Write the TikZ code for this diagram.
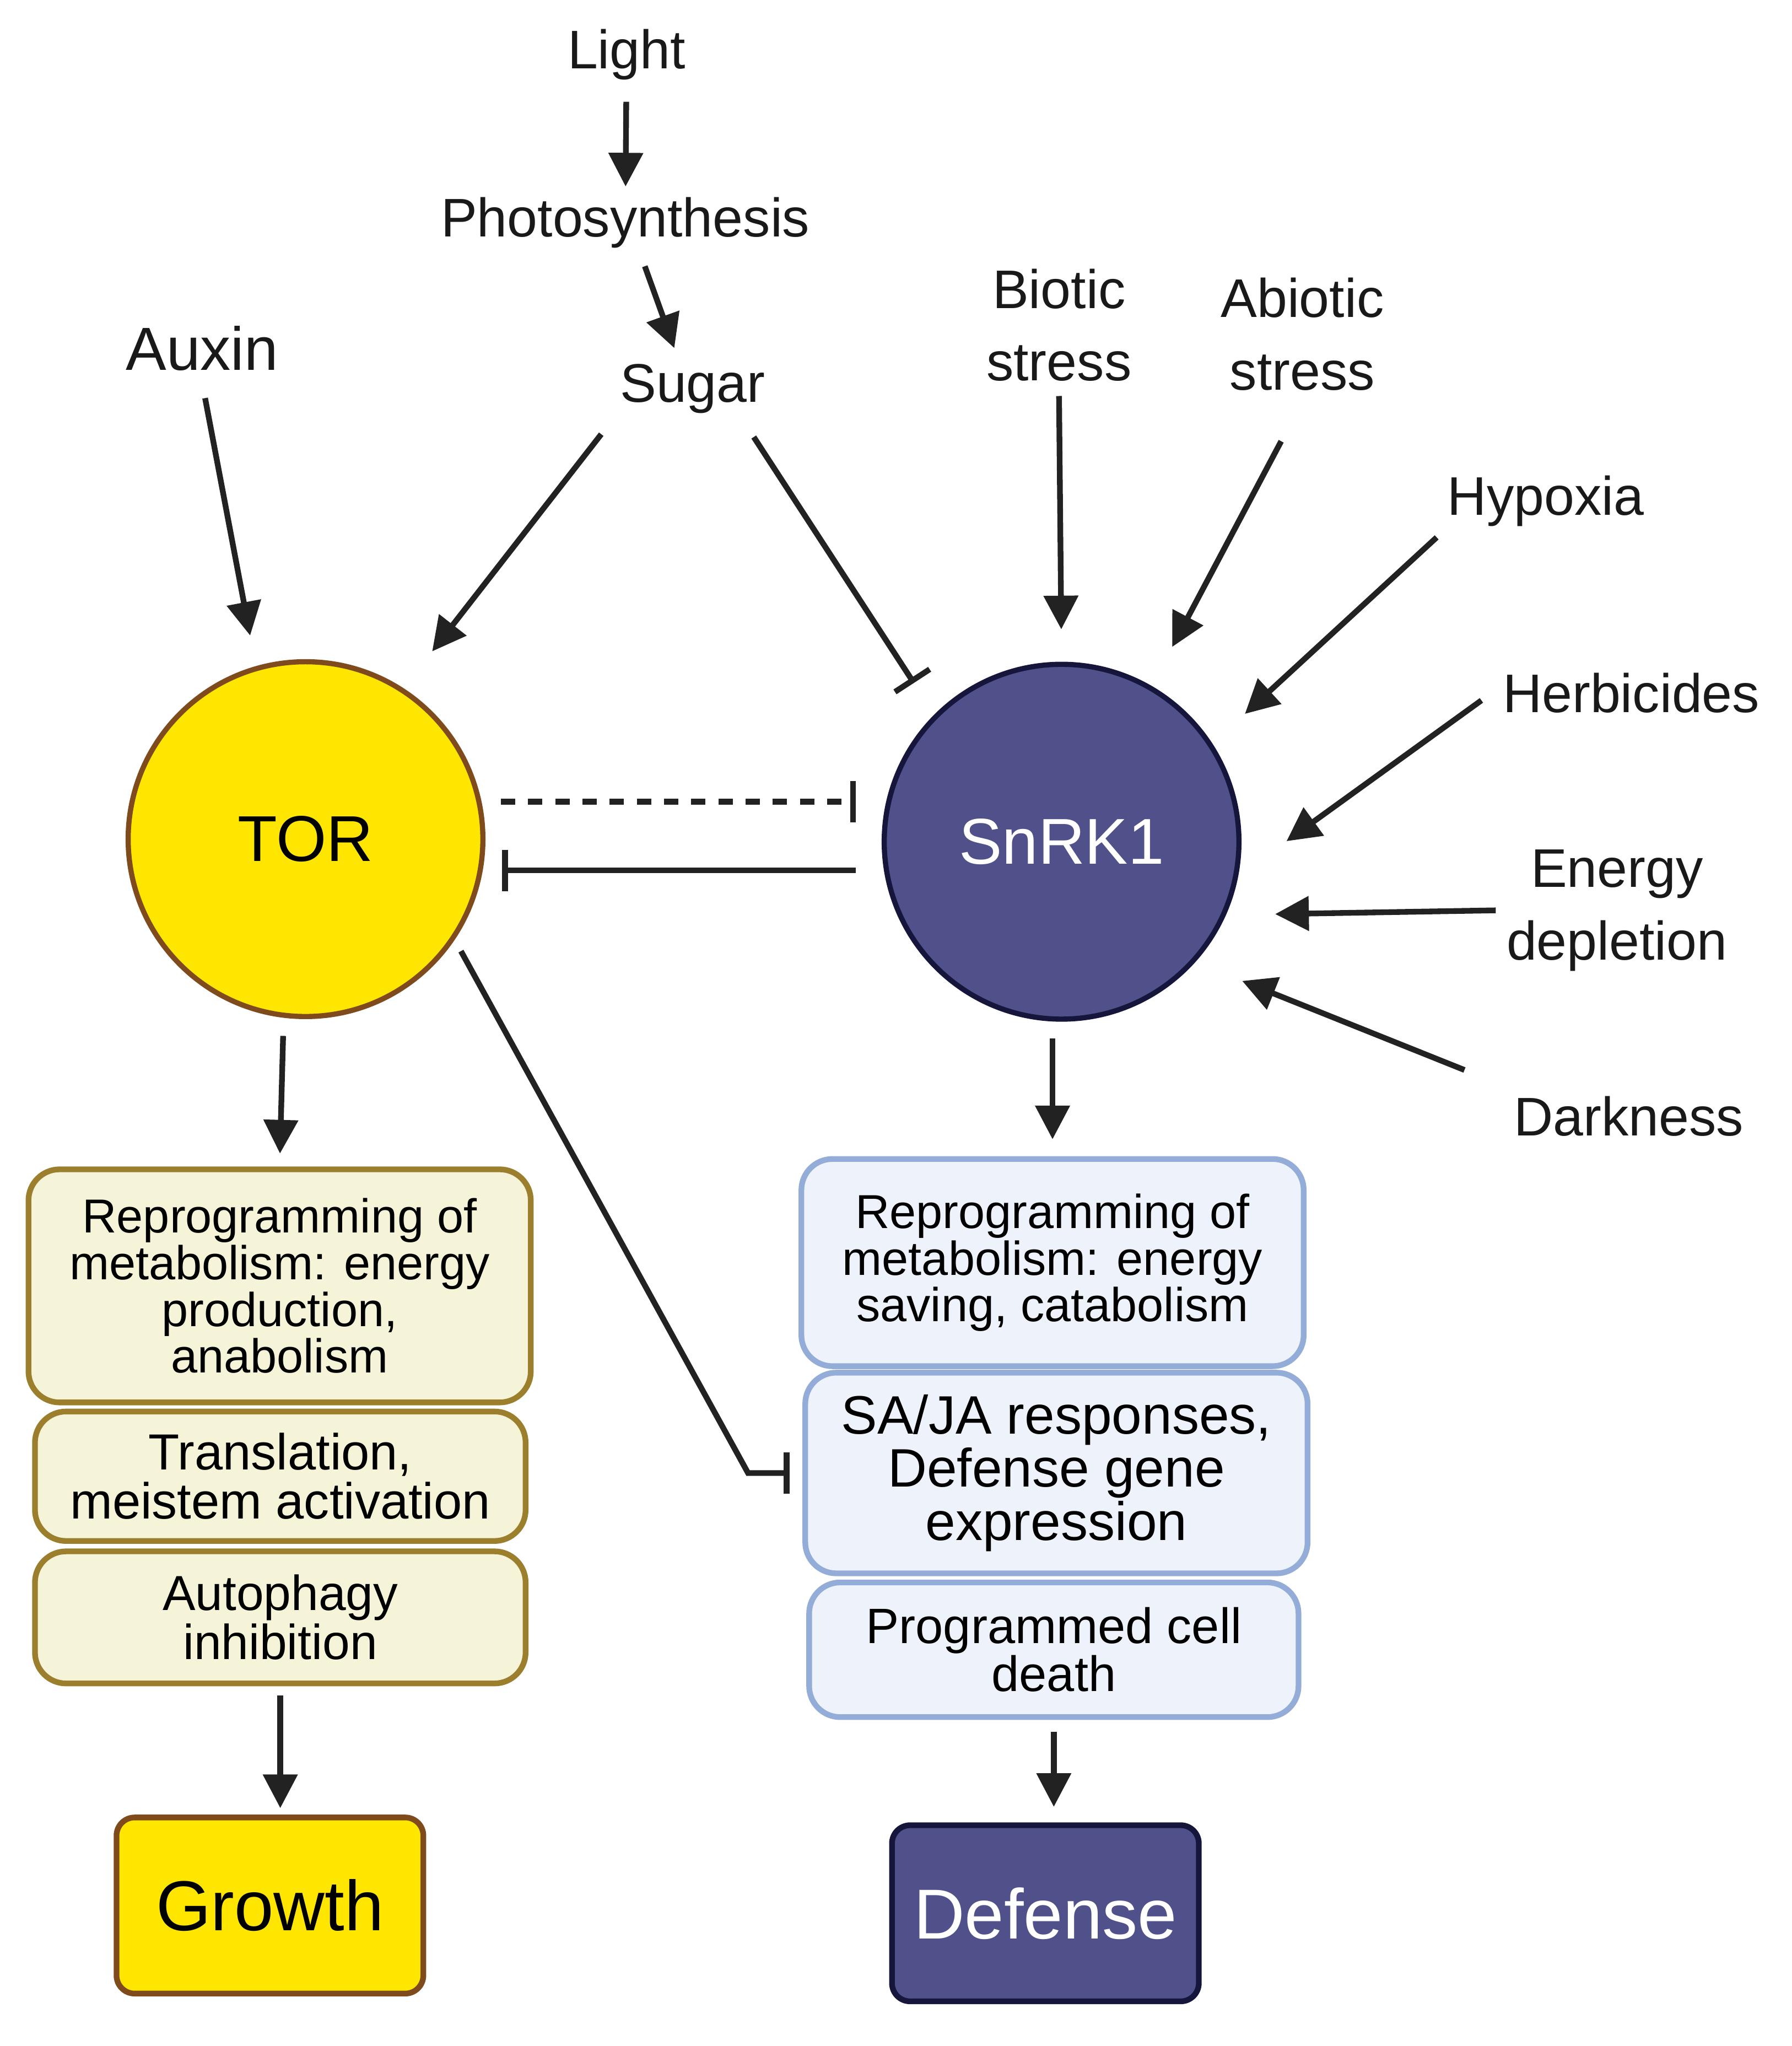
\documentclass[tikz,border=0pt]{standalone}
\usepackage{fontspec}
\setmainfont{Liberation Sans}
\usetikzlibrary{arrows.meta}

\definecolor{linecol}{HTML}{222222}
\definecolor{torfill}{HTML}{FFE600}
\definecolor{tordraw}{HTML}{7F4A1C}
\definecolor{snrkfill}{HTML}{50508A}
\definecolor{snrkdraw}{HTML}{16163C}
\definecolor{lboxfill}{HTML}{F5F3D8}
\definecolor{lboxdraw}{HTML}{9B7F2D}
\definecolor{rboxfill}{HTML}{EEF3FB}
\definecolor{rboxdraw}{HTML}{93ADD8}

\tikzset{
  lab/.style={inner sep=4pt,align=center,text=black!90,font=\fontsize{21}{28}\selectfont},
  act/.style={line width=2.2pt,draw=linecol,-{Triangle[length=13pt,width=13pt]}},
  inh/.style={line width=2.2pt,draw=linecol,-{Bar[width=16pt]}},
  hub/.style={circle,minimum size=137pt,line width=2pt,font=\fontsize{25}{30}\selectfont},
  lbox/.style={draw=lboxdraw,fill=lboxfill,line width=2.2pt,rounded corners=12pt,align=center,inner sep=0pt},
  rbox/.style={draw=rboxdraw,fill=rboxfill,line width=2.2pt,rounded corners=12pt,align=center,inner sep=0pt},
  endbox/.style={line width=2.2pt,rounded corners=7pt,minimum width=118.5pt,minimum height=68pt,font=\fontsize{27.3}{30}\selectfont}
}

\begin{document}
\begin{tikzpicture}[x=0.5pt,y=-0.5pt]
  \useasboundingbox (0,0) rectangle (1384,1580);

  \node[lab] (light) at (484,42) {Light};
  \node[lab] (photo) at (483,172) {Photosynthesis};
  \node[lab] (sugar) at (535,300) {Sugar};
  \node[lab,font=\fontsize{23.5}{28}\selectfont] (auxin) at (156,269) {Auxin};
  \node[lab] (biotic) at (818,251) {Biotic\\stress};
  \node[lab] (abiotic) at (1006,258) {Abiotic\\stress};
  \node[lab] (hypoxia) at (1194,387) {Hypoxia};
  \node[lab] (herb) at (1260,535) {Herbicides};
  \node[lab] (energy) at (1249,703) {Energy\\depletion};
  \node[lab] (dark) at (1258,862) {Darkness};

  \node[hub,fill=torfill,draw=tordraw] (tor) at (236,648) {TOR};
  \node[hub,fill=snrkfill,draw=snrkdraw,text=white] (snrk) at (820,650) {SnRK1};

  \node[lbox,minimum width=194pt,minimum height=90pt,font=\fontsize{18.4}{18}\selectfont] (lmeta) at (216,993) {Reprogramming of\\metabolism: energy\\production,\\anabolism};
  \node[lbox,minimum width=189.5pt,minimum height=50pt,font=\fontsize{19.6}{19}\selectfont] (ltrans) at (216.5,1140) {Translation,\\meistem activation};
  \node[lbox,minimum width=189.5pt,minimum height=51pt,font=\fontsize{19}{19}\selectfont] (lauto) at (216.5,1249) {Autophagy\\inhibition};
  \node[endbox,fill=torfill,draw=tordraw] (growth) at (208.5,1471.5) {Growth};

  \node[rbox,minimum width=194pt,minimum height=80pt,font=\fontsize{18.4}{18}\selectfont] (rmeta) at (813,975) {Reprogramming of\\metabolism: energy\\saving, catabolism};
  \node[rbox,minimum width=194pt,minimum height=77.5pt,font=\fontsize{20.9}{20.5}\selectfont] (rdef) at (816,1137.5) {SA/JA responses,\\Defense gene\\expression};
  \node[rbox,minimum width=189pt,minimum height=52pt,font=\fontsize{19.2}{18.5}\selectfont] (rpcd) at (814,1274) {Programmed cell\\death};
  \node[endbox,fill=snrkfill,draw=snrkdraw,text=white] (defense) at (807.5,1477.5) {Defense};

  \draw[act,shorten <=4.3pt] (light) -- (photo);
  \draw[act,shorten <=3pt,shorten >=2pt] (photo.-65) -- (sugar.115);
  \draw[act,shorten <=6.5pt,shorten >=12pt] (auxin.south) -- (tor.106);
  \draw[act,shorten <=5pt,shorten >=18pt] (sugar.south west) -- (tor.57);
  \draw[inh,shorten <=6pt,shorten >=14.5pt] (sugar.-34) -- (snrk.135);
  \draw[act,shorten <=1.5pt,shorten >=12.5pt] (biotic.south) -- (snrk.north);
  \draw[act,shorten <=17.5pt,shorten >=17pt] (abiotic.south) -- (snrk.60);
  \draw[act,shorten >=17pt] (hypoxia.south west) -- (snrk.33);
  \draw[act,shorten <=5pt,shorten >=23pt] (herb.west) -- (snrk.-11);
  \draw[act,shorten >=19pt] (energy.west) -- (snrk.-24);
  \draw[act,shorten <=16pt,shorten >=19.5pt] (dark.north west) -- (snrk.-42.5);

  \draw[inh,dash pattern=on 5.5pt off 5pt,shorten <=7.5pt,shorten >=10pt] (tor.12) -- (tor.12 -| snrk.west);
  \draw[inh,shorten <=10pt,shorten >=7.5pt] (snrk.west |- tor.-10) -- (tor.-10);
  \draw[inh,shorten <=5pt,shorten >=5pt] (tor.-34) -- ([xshift=-21pt]rdef.west) -- (rdef.west);

  \draw[act,shorten <=7pt,shorten >=5pt] (tor.-97) -- (lmeta.north);
  \draw[act,shorten <=6.5pt,shorten >=6.5pt] (snrk.south -| rmeta.north) -- (rmeta.north);
  \draw[act,shorten <=3.5pt,shorten >=2.5pt] (lauto.south) -- (lauto.south |- growth.north);
  \draw[act,shorten <=4.5pt,shorten >=6pt] (rpcd.south) -- (rpcd.south |- defense.north);
\end{tikzpicture}
\end{document}
